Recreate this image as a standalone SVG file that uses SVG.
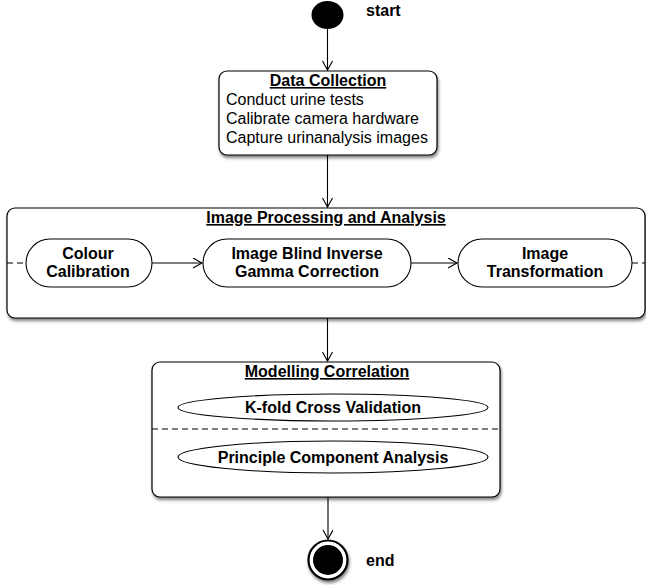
<svg xmlns="http://www.w3.org/2000/svg" width="646" height="585" viewBox="0 0 646 585">
<style>
text{font-family:"Liberation Sans",Arial,sans-serif;font-size:16px;fill:#000}
.b{font-weight:bold}
.t{font-weight:bold;text-decoration:underline}
.m{text-anchor:middle}
.box{fill:#fff;stroke:#000;stroke-width:1.2}
.act{fill:#fff;stroke:#000;stroke-width:1.1}
.ln{stroke:#000;stroke-width:1.1;fill:none}
.dash{stroke:#000;stroke-width:1.1;stroke-dasharray:6,4;fill:none}
</style>
<defs>
<filter id="sh" x="-10%" y="-10%" width="125%" height="130%">
<feDropShadow dx="1" dy="2.5" stdDeviation="1.5" flood-color="#000" flood-opacity="0.5"/>
</filter>
<marker id="arr" markerUnits="userSpaceOnUse" markerWidth="12" markerHeight="12" refX="10" refY="5" orient="auto">
<path d="M1,0 L10,5 L1,10" fill="none" stroke="#000" stroke-width="1.1"/>
</marker>
</defs>

<g id="start">
<ellipse cx="327.5" cy="15" rx="16" ry="14" fill="#000"/>
<text class="b" x="366" y="16">start</text>
</g>

<g id="data-collection">
<rect class="box" x="219" y="71" width="218" height="84" rx="8" filter="url(#sh)"/>
<text class="t m" x="328" y="86">Data Collection</text>
<text x="226" y="105">Conduct urine tests</text>
<text x="226" y="124">Calibrate camera hardware</text>
<text x="226" y="143">Capture urinanalysis images</text>
</g>

<g id="image-processing">
<rect class="box" x="7" y="208" width="638" height="110" rx="8" filter="url(#sh)"/>
<text class="t m" x="326" y="223">Image Processing and Analysis</text>
</g>

<g id="colour-calibration">
<rect class="act" x="26" y="239" width="126" height="48" rx="24"/>
<text class="b m" x="88" y="259">Colour</text>
<text class="b m" x="88" y="277">Calibration</text>
</g>

<g id="gamma-correction">
<rect class="act" x="203" y="239" width="208" height="48" rx="24"/>
<text class="b m" x="307" y="259">Image Blind Inverse</text>
<text class="b m" x="307" y="277">Gamma Correction</text>
</g>

<g id="image-transformation">
<rect class="act" x="458" y="239" width="174" height="48" rx="24"/>
<text class="b m" x="545" y="259">Image</text>
<text class="b m" x="545" y="277">Transformation</text>
</g>

<g id="modelling-correlation">
<rect class="box" x="152" y="362" width="348" height="135" rx="8" filter="url(#sh)"/>
<text class="t m" x="327" y="377">Modelling Correlation</text>
<line class="dash" x1="152" y1="429" x2="500" y2="429"/>
</g>

<g id="kfold">
<ellipse class="act" cx="333" cy="407.5" rx="155" ry="13.5"/>
<text class="b m" x="333" y="413">K-fold Cross Validation</text>
</g>

<g id="pca">
<ellipse class="act" cx="333" cy="457" rx="155" ry="16"/>
<text class="b m" x="333" y="463">Principle Component Analysis</text>
</g>

<g id="end">
<circle cx="328" cy="560" r="19.5" fill="#fff" stroke="#000" stroke-width="2.2" filter="url(#sh)"/>
<circle cx="328" cy="560" r="15" fill="#000"/>
<text class="b" x="366" y="566">end</text>
</g>

<g id="connectors">
<line class="ln" x1="327.5" y1="29" x2="327.5" y2="70" marker-end="url(#arr)"/>
<line class="ln" x1="327.5" y1="155" x2="327.5" y2="207" marker-end="url(#arr)"/>
<line class="ln" x1="152" y1="263" x2="202" y2="263" marker-end="url(#arr)"/>
<line class="ln" x1="411" y1="263" x2="457" y2="263" marker-end="url(#arr)"/>
<line class="dash" x1="7" y1="263" x2="26" y2="263"/>
<line class="dash" x1="632" y1="263" x2="645" y2="263" stroke-dasharray="5,4"/>
<line class="ln" x1="327.5" y1="318" x2="327.5" y2="361" marker-end="url(#arr)"/>
<line class="ln" x1="328" y1="497" x2="328" y2="539" marker-end="url(#arr)"/>
</g>
</svg>
